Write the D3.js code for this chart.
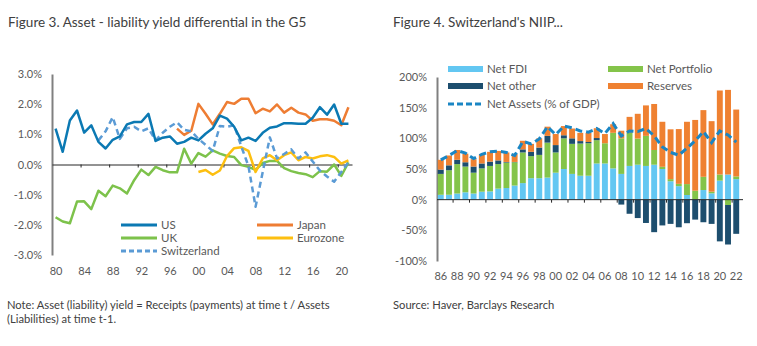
<!DOCTYPE html>
<html>
<head>
<meta charset="utf-8">
<script src="https://cdn.jsdelivr.net/npm/d3@7"></script>
<style>
  body { margin: 0; background: #fff; }
  svg { display: block; font-family: Lato, "Noto Sans", sans-serif; }
</style>
</head>
<body>
<svg id="chart" width="757" height="346"></svg>
<script>
// ---- Figure 3 data (yield differential, %) ----
var years1 = d3.range(1980, 2022);
var yLabelYears = [1980, 1984, 1988, 1992, 1996, 2000, 2004, 2008, 2012, 2016, 2020];
var yTicksLeft = [3, 2, 1, 0, -1, -2, -3];

var us = [1.19, 0.42, 1.46, 1.79, 1.06, 1.30, 0.75, 0.53, 0.82, 0.93, 1.33, 1.41, 1.41, 1.68, 0.78, 0.89, 0.93, 0.69, 0.75, 0.89,
  0.80, 1.02, 1.20, 1.62, 1.52, 1.25, 0.80, 0.89, 0.78, 1.05, 1.22, 1.26, 1.37, 1.37, 1.35, 1.35, 1.55, 1.90, 1.65, 1.99, 1.35, 1.35];
var japanStart = 1997;
var japan = [1.19, 0.98, 1.12, 2.01, 1.68, 1.33, 1.68, 2.07, 2.01, 2.18, 2.18, 1.70, 1.85, 1.76, 1.99, 1.72, 1.88, 1.72, 1.66,
  1.45, 1.50, 1.50, 1.45, 1.30, 1.90];
var uk = [-1.75, -1.89, -1.95, -1.23, -1.22, -1.48, -0.87, -1.05, -0.70, -0.79, -0.96, -0.52, -0.17, -0.35, -0.08, -0.19, -0.26, -0.26,
  0.52, 0.03, 0.38, 0.26, 0.47, 0.36, 0.28, 0.25, -0.02, -0.08, -0.18, 0.05, 0.12, 0.12, -0.12, -0.22, -0.28, -0.32, -0.42, -0.22,
  -0.24, 0.0, -0.38, 0.07];
var euroStart = 2000;
var eurozone = [-0.25, -0.18, -0.34, -0.20, 0.28, 0.54, 0.57, 0.45, -0.25, 0.20, 0.31, 0.14, 0.31, 0.40, 0.14, 0.25, 0.20, 0.27,
  0.31, 0.25, 0.03, 0.14];
var swissStart = 1986;
var switzerland = [0.80, 1.10, 1.57, 0.85, 1.20, 1.25, 1.10, 1.20, 0.80, 1.05, 1.25, 1.40, 1.15, 1.10, 0.85, 0.65, 0.45, 1.28,
  1.25, 1.30, 0.60, -0.05, -1.40, -0.25, 0.90, 0.20, 0.35, 0.50, 0.20, 0.40, 0.10, -0.20, -0.40, -0.57, -0.25, 0.08];

// ---- Figure 4 data (% of GDP) ----
var years2 = d3.range(1986, 2023);
var yTicksRight = [200, 150, 100, 50, 0, -50, -100];
var netFDI = [8, 8, 10, 12, 10, 13, 13.5, 18, 19, 23, 27, 35, 35, 36, 44, 50, 42, 39, 39, 59, 59, 51, 42, 55, 57, 55, 57, 50,
  30, 22, 7.6, 1, 15.7, 10.3, 31, 41, 33.5];
var netPortfolio = [34, 40, 48, 42, 34, 38, 41.5, 40, 41.5, 38, 50, 36, 38, 57, 33, 50, 49, 52.5, 53, 38, 33, 58, 58, 54, 42.6,
  49, 24, 3.6, 3.5, 3.8, 17.8, 13.6, 21.6, 2.7, 10, -8.7, 4.4];
var netOther = [7, 8, 7, 7, 10, 8, 7, 6, 1, 0.5, 5, 7, 12, 11, 12, 5, 9, 4, 2, 3.5, 0, 0, -8, -23, -30, -38, -53, -42, -39.5,
  -45, -38.4, -32.5, -36.8, -39.5, -68, -64.4, -55.7];
var reserves = [16, 16, 16, 14, 12, 15, 16, 15.5, 15.5, 13, 14, 13, 15, 15, 18, 15, 16, 13.5, 15, 16, 15, 14, 12.4, 26, 40.4,
  49.7, 75, 73.4, 81.2, 89.3, 101.6, 115.4, 108.7, 115, 137, 138, 109];
var netAssets = [65, 72, 80, 76, 67, 74, 78, 79, 77, 72, 95, 91, 99, 119, 106, 120, 117, 112, 110, 116, 108, 124, 104, 112, 111,
  116, 104, 86, 77, 72.5, 84, 96, 111, 93, 112, 105.5, 94];

var txt = "#404040", lab = "#595959";
var svg = d3.select("#chart");

function pct1(v) { return v.toFixed(1) + "%"; }
function yy(y) { return String(y).slice(2); }

// titles + notes
svg.append("text").attr("x", 8).attr("y", 27).attr("fill", txt).style("font-size", "13.5px")
  .text("Figure 3. Asset - liability yield differential in the G5");
svg.append("text").attr("x", 393).attr("y", 27).attr("fill", txt).style("font-size", "13.5px")
  .text("Figure 4. Switzerland's NIIP...");
svg.append("text").attr("x", 7).attr("y", 309).attr("fill", txt).style("font-size", "11.2px")
  .text("Note: Asset (liability) yield = Receipts (payments) at time t / Assets");
svg.append("text").attr("x", 7).attr("y", 323).attr("fill", txt).style("font-size", "11.2px")
  .text("(Liabilities) at time t-1.");
svg.append("text").attr("x", 393).attr("y", 309).attr("fill", txt).style("font-size", "11.2px")
  .text("Source: Haver, Barclays Research");

// ================= Figure 3 =================
var xL = d3.scaleLinear().domain([1979.5, 2021.5]).range([52, 352]);
var yL = d3.scaleLinear().domain([-3, 3]).range([255, 74]);

var gyL = svg.append("g").attr("transform", "translate(52,0)")
  .call(d3.axisLeft(yL).tickValues(yTicksLeft).tickSize(0).tickPadding(10).tickFormat(pct1));
gyL.select(".domain").attr("stroke", "#808080").attr("stroke-width", 2);
gyL.selectAll("text").attr("fill", lab).style("font-size", "11px").style("font-family", "Lato, sans-serif");

var gx0 = svg.append("g").attr("transform", "translate(0," + yL(0) + ")")
  .call(d3.axisBottom(xL).tickValues(yLabelYears.slice(1).map(function (y) { return y - 0.5; }))
    .tickSize(3).tickSizeOuter(0).tickFormat(""));
gx0.select(".domain").attr("stroke", "#262626");
gx0.selectAll(".tick line").attr("stroke", "#262626");

var gxl = svg.append("g").attr("transform", "translate(0,258)")
  .call(d3.axisBottom(xL).tickValues(yLabelYears).tickSize(0).tickPadding(9).tickFormat(yy));
gxl.select(".domain").remove();
gxl.selectAll("text").attr("fill", lab).style("font-size", "11px").style("font-family", "Lato, sans-serif");

function series(vals, start) {
  return vals.map(function (v, i) { return [start + i, v]; });
}
var lineL = d3.line().x(function (d) { return xL(d[0]); }).y(function (d) { return yL(d[1]); });

var leftSeries = [
  { name: "UK", data: series(uk, 1980), color: "#7dc24b", dash: null },
  { name: "Eurozone", data: series(eurozone, euroStart), color: "#fdbf10", dash: null },
  { name: "Japan", data: series(japan, japanStart), color: "#ee7d33", dash: null },
  { name: "Switzerland", data: series(switzerland, swissStart), color: "#5b9bd5", dash: "6,4" },
  { name: "US", data: series(us, 1980), color: "#0b79b3", dash: null }
];
leftSeries.forEach(function (s) {
  svg.append("path").datum(s.data).attr("d", lineL)
    .attr("fill", "none").attr("stroke", s.color).attr("stroke-width", 2.5)
    .attr("stroke-linejoin", "round")
    .attr("stroke-dasharray", s.dash);
});

var legL = [
  { name: "US", x: 121, y: 225 }, { name: "UK", x: 121, y: 238 }, { name: "Switzerland", x: 121, y: 251 },
  { name: "Japan", x: 257, y: 225 }, { name: "Eurozone", x: 257, y: 238 }
];
legL.forEach(function (l) {
  var s = leftSeries.find(function (d) { return d.name === l.name; });
  svg.append("line").attr("x1", l.x).attr("x2", l.x + 36).attr("y1", l.y).attr("y2", l.y)
    .attr("stroke", s.color).attr("stroke-width", 3).attr("stroke-dasharray", s.dash ? "5,3" : null);
  svg.append("text").attr("x", l.x + 40).attr("y", l.y + 4).attr("fill", lab)
    .style("font-size", "11.5px").text(l.name);
});

// ================= Figure 4 =================
var xR = d3.scaleBand().domain(years2).range([437, 740]).paddingInner(0.28).paddingOuter(0.1);
var yR = d3.scaleLinear().domain([-100, 200]).range([261, 77]);

var gyR = svg.append("g").attr("transform", "translate(437,0)")
  .call(d3.axisLeft(yR).tickValues(yTicksRight).tickSize(0).tickPadding(10)
    .tickFormat(function (v) { return v + "%"; }));
gyR.select(".domain").attr("stroke", "#808080").attr("stroke-width", 2);
gyR.selectAll("text").attr("fill", lab).style("font-size", "11px").style("font-family", "Lato, sans-serif");

var rows = years2.map(function (y, i) {
  return { year: y, fdi: netFDI[i], portfolio: netPortfolio[i], other: netOther[i], reserves: reserves[i] };
});
var keys = ["fdi", "portfolio", "other", "reserves"];
var colors = { fdi: "#63c7f2", portfolio: "#84c44a", other: "#1d4e6e", reserves: "#ef8131" };
var stacked = d3.stack().keys(keys).offset(d3.stackOffsetDiverging)(rows);

svg.append("g").selectAll("g").data(stacked).enter().append("g")
  .attr("fill", function (d) { return colors[d.key]; })
  .selectAll("rect").data(function (d) { return d; }).enter().append("rect")
  .attr("x", function (d) { return xR(d.data.year); })
  .attr("width", xR.bandwidth())
  .attr("y", function (d) { return yR(Math.max(d[0], d[1])); })
  .attr("height", function (d) { return Math.abs(yR(d[0]) - yR(d[1])); });

// zero line with ticks between every second category
svg.append("line").attr("x1", 437).attr("x2", 743).attr("y1", yR(0)).attr("y2", yR(0)).attr("stroke", "#262626");
var gap = xR.step() - xR.bandwidth();
years2.filter(function (y) { return y % 2 === 1; }).forEach(function (y) {
  var tx = xR(y) + xR.bandwidth() + gap / 2;
  svg.append("line").attr("x1", tx).attr("x2", tx).attr("y1", yR(0)).attr("y2", yR(0) + 3).attr("stroke", "#262626");
});

var gxR = svg.append("g").attr("transform", "translate(0,263)")
  .call(d3.axisBottom(xR).tickValues(years2.filter(function (y) { return y % 2 === 0; }))
    .tickSize(0).tickPadding(9).tickFormat(yy));
gxR.select(".domain").remove();
gxR.selectAll("text").attr("fill", lab).style("font-size", "11px").style("font-family", "Lato, sans-serif");

var lineR = d3.line()
  .x(function (d, i) { return xR(years2[i]) + xR.bandwidth() / 2; })
  .y(function (d) { return yR(d); });
svg.append("path").datum(netAssets).attr("d", lineR)
  .attr("fill", "none").attr("stroke", "#1a86c4").attr("stroke-width", 3).attr("stroke-dasharray", "7,4");

var legR = [
  { label: "Net FDI", color: colors.fdi, x: 448, y: 69 },
  { label: "Net Portfolio", color: colors.portfolio, x: 608, y: 69 },
  { label: "Net other", color: colors.other, x: 448, y: 86 },
  { label: "Reserves", color: colors.reserves, x: 608, y: 86 }
];
legR.forEach(function (l) {
  svg.append("rect").attr("x", l.x).attr("y", l.y - 3).attr("width", 35).attr("height", 6).attr("fill", l.color);
  svg.append("text").attr("x", l.x + 39).attr("y", l.y + 4).attr("fill", lab).style("font-size", "11.5px").text(l.label);
});
svg.append("line").attr("x1", 448).attr("x2", 483).attr("y1", 104).attr("y2", 104)
  .attr("stroke", "#1a86c4").attr("stroke-width", 3).attr("stroke-dasharray", "6,3");
svg.append("text").attr("x", 487).attr("y", 108).attr("fill", lab).style("font-size", "11.5px").text("Net Assets (% of GDP)");
</script>
</body>
</html>
